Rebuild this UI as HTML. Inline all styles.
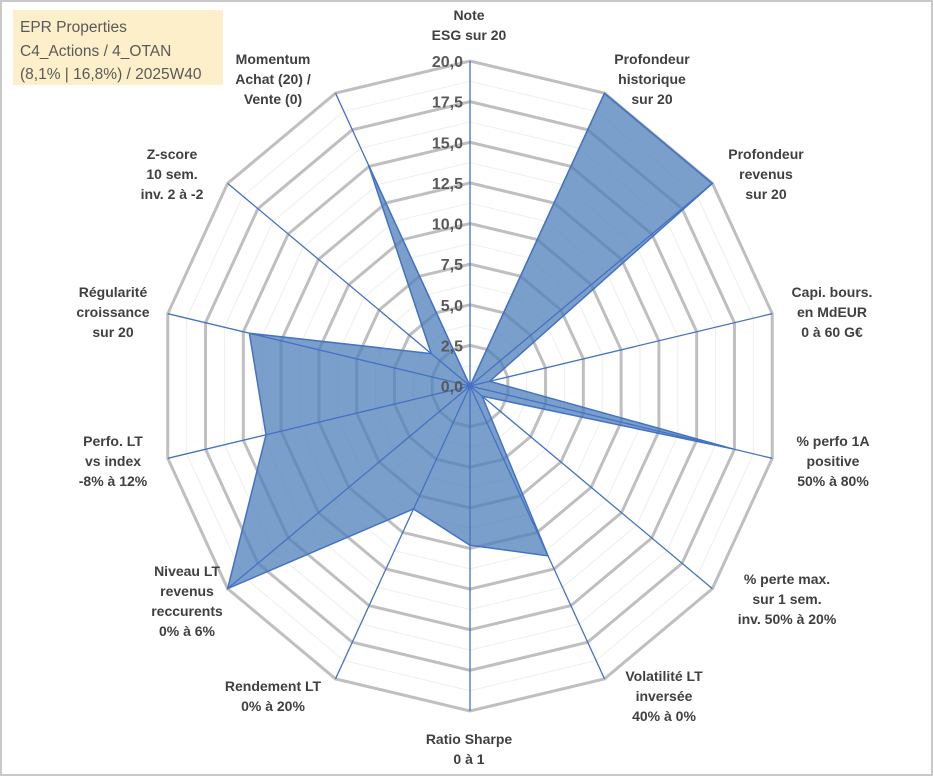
<!DOCTYPE html>
<html><head><meta charset="utf-8"><style>
body{margin:0;background:#fff}
#wrap{position:relative;width:933px;height:776px;overflow:hidden;font-family:"Liberation Sans",Arial,sans-serif}
</style></head><body>
<div id="wrap">
<svg id="chart" width="933" height="776" xmlns="http://www.w3.org/2000/svg">
<rect x="1" y="1" width="931" height="774" fill="#fff" stroke="#c8c8c8" stroke-width="2"/>
<rect x="13" y="10" width="210" height="75" fill="#fdefc9"/>
<text x="20" y="32" font-size="15.5" fill="#595959">EPR Properties</text>
<text x="20" y="56" font-size="15.5" fill="#595959">C4_Actions / 4_OTAN</text>
<text x="20" y="79" font-size="15.5" fill="#595959">(8,1% | 16,8%) / 2025W40</text>
<g id="grid"></g><g id="series"></g><g id="axes"></g><g id="ticks"></g><g id="labels"></g>
</svg>
</div>
<script>
const categories = [
 ["Note","ESG sur 20"],
 ["Profondeur","historique","sur 20"],
 ["Profondeur","revenus","sur 20"],
 ["Capi. bours.","en MdEUR","0 à 60 G€"],
 ["% perfo 1A","positive","50% à 80%"],
 ["% perte max.","sur 1 sem.","inv. 50% à 20%"],
 ["Volatilité LT","inversée","40% à 0%"],
 ["Ratio Sharpe","0 à 1"],
 ["Rendement LT","0% à 20%"],
 ["Niveau LT","revenus","reccurents","0% à 6%"],
 ["Perfo. LT","vs index","-8% à 12%"],
 ["Régularité","croissance","sur 20"],
 ["Z-score","10 sem.","inv. 2 à -2"],
 ["Momentum","Achat (20) /","Vente (0)"]
];
const values = [0, 20, 20, 1.3, 17.4, 1.0, 11.6, 9.8, 8.4, 20, 13.5, 14.6, 3.2, 15.1];
const tickLabels = ["0,0","2,5","5,0","7,5","10,0","12,5","15,0","17,5","20,0"];
const labelPos = [[469,20],[652,64],[766,159],[832,297],[833,446],[787,584],[664,681],[469,744],[273,691],[187,576],[113,446],[113,297],[172,159],[273,64]];
const NS="http://www.w3.org/2000/svg";
const cx=470, cy=386, RX=310, RY=325, maxV=20, N=categories.length;
function ang(i){return i*2*Math.PI/N;}
function pt(i,v){const f=v/maxV;return [cx+f*RX*Math.sin(ang(i)), cy-f*RY*Math.cos(ang(i))];}
function mk(tag,attrs,parent){const e=document.createElementNS(NS,tag);for(const k in attrs)e.setAttribute(k,attrs[k]);parent.appendChild(e);return e;}
const grid=document.getElementById('grid');
for(let s=1;s<=16;s++){
  const v=s*1.25, pts=[];
  for(let i=0;i<N;i++)pts.push(pt(i,v).join(','));
  const major=s%2===0;
  const p=mk('polygon',{points:pts.join(' '),fill:'none',stroke:major?'#bfbfbf':'#eeeeee','stroke-width':major?3:1},grid);
  
  
}
const ser=document.getElementById('series');
const sp=values.map((v,i)=>pt(i,v).join(',')).join(' ');
const poly=mk('polygon',{points:sp,fill:'#4f7fb9','fill-opacity':'0.75',stroke:'#4472c4','stroke-width':1.5},ser);


const axes=document.getElementById('axes');
for(let i=0;i<N;i++){
  const [x,y]=pt(i,maxV);
  const l=mk('line',{x1:cx,y1:cy,x2:x,y2:y,stroke:'#4472c4','stroke-width':1.3},axes);
  
  
}
const ticks=document.getElementById('ticks');
tickLabels.forEach((t,k)=>{
  const y=cy-(k*2.5)/maxV*RY;
  const e=mk('text',{x:cx-7,y:y+6,'text-anchor':'end','font-size':16,'font-weight':'bold',fill:'#595959'},ticks);
  e.textContent=t;
  
  
});
const labels=document.getElementById('labels');
categories.forEach((c,i)=>{
  const [x,y]=labelPos[i];
  const e=mk('text',{x:x,y:y,'text-anchor':'middle','font-size':14,'font-weight':'bold',fill:'#404040'},labels);
  
  
  c.forEach((line,j)=>{const ts=mk('tspan',{x:x,dy:j===0?0:20},e);ts.textContent=line;});
});
</script>
</body></html>
